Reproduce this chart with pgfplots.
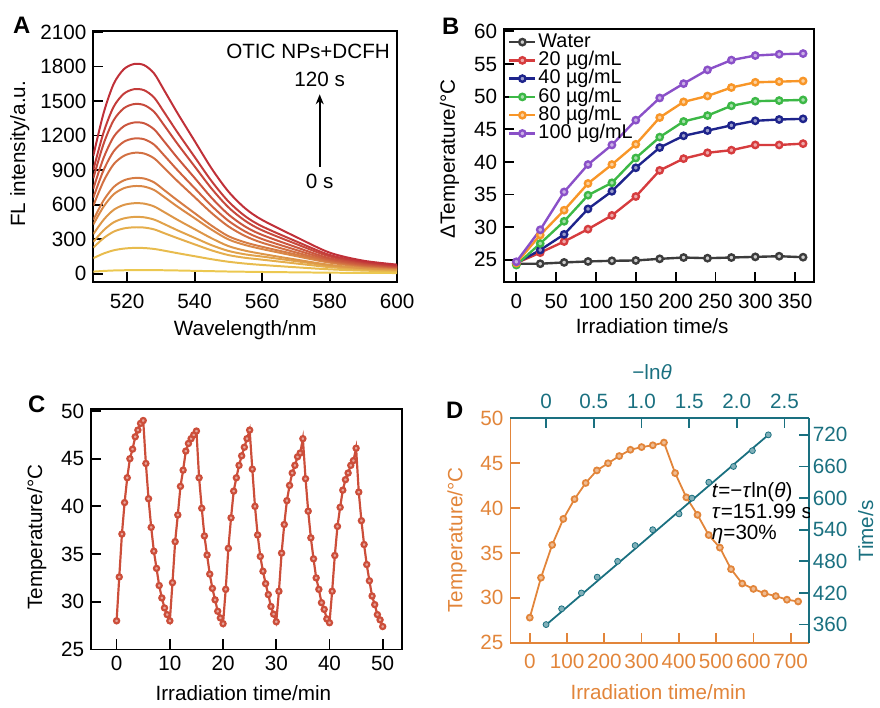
\documentclass[border=0pt]{standalone}
\usepackage{fontspec}
\setmainfont{Liberation Sans}
\usepackage{pgfplots}
\usepackage{pgfplotstable}
\pgfplotsset{compat=1.18}
\usetikzlibrary{arrows.meta}

\definecolor{Ared}{RGB}{192,48,56}
\definecolor{Ayel}{RGB}{236,200,80}
\definecolor{Bwat}{RGB}{60,60,60}
\definecolor{Bred}{RGB}{214,60,62}
\definecolor{Bblu}{RGB}{30,36,140}
\definecolor{Bgrn}{RGB}{60,184,70}
\definecolor{Bora}{RGB}{248,150,40}
\definecolor{Bpur}{RGB}{138,80,200}
\definecolor{Cred}{RGB}{204,78,58}
\definecolor{Dor}{RGB}{226,133,58}
\definecolor{Dte}{RGB}{26,112,128}

\newcommand{\lbl}{\fontsize{10.4}{12}\selectfont}

% FL spectra, 0 s (c13) to 120 s (c1)
\pgfplotstableread{
x   c1   c2   c3   c4   c5   c6   c7  c8  c9  c10 c11 c12 c13
510 1025 902  829  739  661  591  468 428 344 277 227 135 18
513 1391 1224 1125 1003 897  802  635 581 467 376 308 175 24
516 1647 1449 1332 1188 1062 950  752 689 554 446 365 203 28
519 1775 1562 1436 1280 1145 1023 810 742 597 480 393 218 30
522 1821 1602 1473 1313 1174 1050 831 761 612 493 403 224 32
525 1812 1594 1465 1307 1168 1044 827 757 609 490 401 223 32
528 1739 1530 1406 1254 1121 1002 793 727 584 470 385 215 31
531 1592 1401 1288 1148 1027 918  726 666 535 431 352 200 30
535 1391 1224 1125 1003 897  802  635 581 467 376 308 178 28
540 1153 1014 932  832  743  665  526 482 387 312 255 152 25
545 915  805  740  660  590  528  418 383 308 248 203 126 22
550 714  628  577  515  460  411  326 298 240 198 162 104 19
555 567  499  459  409  366  327  272 249 200 168 138 88  17
560 467  411  377  337  301  269  234 214 172 149 122 76  15
570 320  282  259  231  207  185  167 153 123 109 89  56  12
580 183  163  150  134  122  112  104 96  77  69  57  38  9
590 113  103  95   86   78   72   67  61  49  47  38  27  7
600 79   71   66   61   57   54   50  46  37  35  28  20  6
}\dataA

\pgfplotstableread{
t   w     c20  c40  c60  c80  c100
0   24.4  24.5 24.5 24.2 24.5 24.7
30  24.4  26.1 26.5 27.5 28.8 29.6
60  24.6  27.8 28.9 30.9 32.6 35.4
90  24.75 29.7 32.8 34.9 36.7 39.6
120 24.85 31.8 35.5 36.8 39.6 42.6
150 24.9  34.7 39.1 40.6 42.7 46.4
180 25.15 38.7 42.2 43.8 46.8 49.8
210 25.35 40.5 44.0 46.2 49.2 52.0
240 25.25 41.4 44.8 47.1 50.1 54.1
270 25.35 41.8 45.6 48.6 51.4 55.6
300 25.45 42.6 46.3 49.3 52.2 56.3
330 25.55 42.6 46.5 49.4 52.3 56.5
360 25.4  42.8 46.6 49.5 52.4 56.6
}\dataB

\pgfplotsset{
  common/.style={
    scale only axis,
    tick align=inside,
    major tick length=5pt,
    tick label style={font=\lbl},
    label style={font=\lbl},
    /pgf/number format/assume math mode=true,
    /pgf/number format/1000 sep={},
    scaled ticks=false,
  },
  boxed/.style={
    common,
    axis line style={line width=0.9pt},
    every tick/.style={black, line width=0.9pt},
    xtick pos=left, ytick pos=left,
  },
}

\begin{document}
\begin{tikzpicture}
\path (0pt,0pt) rectangle (440pt,353pt);

% ---------- A ----------
\begin{axis}[boxed, at={(47pt,211pt)}, anchor=south west,
  width=153pt, height=126.5pt,
  xmin=510, xmax=600, ymin=-72, ymax=2110,
  xtick={520,540,...,600}, ytick={0,300,...,2100},
  xticklabel style={yshift=-2.4pt},
  xlabel={Wavelength/nm}, ylabel={FL intensity/a.u.},
  xlabel style={at={(axis description cs:0.5,-0.19)}, anchor=center},
  ylabel style={at={(axis description cs:-0.242,0.51)}, anchor=center},
  every axis plot/.append style={line width=1pt, smooth, no markers}]
\addplot[color=Ared!0!Ayel]   table[x=x,y=c13] {\dataA};
\addplot[color=Ared!8!Ayel]   table[x=x,y=c12] {\dataA};
\addplot[color=Ared!17!Ayel]  table[x=x,y=c11] {\dataA};
\addplot[color=Ared!25!Ayel]  table[x=x,y=c10] {\dataA};
\addplot[color=Ared!33!Ayel]  table[x=x,y=c9] {\dataA};
\addplot[color=Ared!42!Ayel]  table[x=x,y=c8] {\dataA};
\addplot[color=Ared!50!Ayel]  table[x=x,y=c7] {\dataA};
\addplot[color=Ared!58!Ayel]  table[x=x,y=c6] {\dataA};
\addplot[color=Ared!67!Ayel]  table[x=x,y=c5] {\dataA};
\addplot[color=Ared!75!Ayel]  table[x=x,y=c4] {\dataA};
\addplot[color=Ared!83!Ayel]  table[x=x,y=c3] {\dataA};
\addplot[color=Ared!92!Ayel]  table[x=x,y=c2] {\dataA};
\addplot[color=Ared!100!Ayel] table[x=x,y=c1] {\dataA};
\node[anchor=east, font=\lbl, inner sep=0pt] at (rel axis cs:0.977,0.917) {OTIC NPs+DCFH};
\node[font=\lbl, inner sep=0pt] at (rel axis cs:0.745,0.806) {120 s};
\node[font=\lbl, inner sep=0pt] at (rel axis cs:0.745,0.40) {0 s};
\draw[-{Stealth[length=5pt,width=4pt]}, line width=0.8pt]
  (rel axis cs:0.745,0.458) -- (rel axis cs:0.745,0.747);
\end{axis}

% ---------- B ----------
\begin{axis}[boxed, at={(253.85pt,211pt)}, anchor=south west,
  width=156pt, height=127.5pt,
  xmin=-15.3, xmax=373.7, ymin=21.6, ymax=60.4,
  xtick={0,50,...,350}, ytick={25,30,...,60},
  xticklabel style={yshift=-2.4pt},
  xlabel={Irradiation time/s}, ylabel={ΔTemperature/°C},
  xlabel style={at={(axis description cs:0.478,-0.173)}, anchor=center},
  ylabel style={at={(axis description cs:-0.176,0.486)}, anchor=center},
  every axis plot/.append style={line width=1.2pt, mark=*, mark size=1.6pt},
  legend style={at={(rel axis cs:0.012,0.985)}, anchor=north west,
    draw=none, fill=none, font=\fontsize{10}{11}\selectfont,
    inner sep=0pt, row sep=0pt,
    nodes={inner xsep=1pt, inner ysep=0pt, text height=7.2pt, text depth=2pt}},
  legend cell align=left,
  legend image code/.code={\draw[mark repeat=2,mark phase=2]
    plot coordinates {(0pt,0pt) (6.5pt,0pt) (13pt,0pt)};}]
\addplot[color=Bwat, mark options={fill=Bwat!25!white}] table[x=t,y=w] {\dataB};
\addlegendentry{Water}
\addplot[color=Bred, mark options={fill=Bred!45!white}] table[x=t,y=c20] {\dataB};
\addlegendentry{20 µg/mL}
\addplot[color=Bblu, mark options={fill=Bblu!45!white}] table[x=t,y=c40] {\dataB};
\addlegendentry{40 µg/mL}
\addplot[color=Bgrn, mark options={fill=Bgrn!45!white}] table[x=t,y=c60] {\dataB};
\addlegendentry{60 µg/mL}
\addplot[color=Bora, mark options={fill=Bora!45!white}] table[x=t,y=c80] {\dataB};
\addlegendentry{80 µg/mL}
\addplot[color=Bpur, mark options={fill=Bpur!45!white}] table[x=t,y=c100] {\dataB};
\addlegendentry{100 µg/mL}
\end{axis}

% ---------- C ----------
\begin{axis}[boxed, at={(45.85pt,26pt)}, anchor=south west,
  width=156.5pt, height=121pt,
  xmin=-4.8, xmax=53.6, ymin=25, ymax=50.2,
  xtick={0,10,...,50}, ytick={25,30,...,50},
  xlabel={Irradiation time/min}, ylabel={Temperature/°C},
  xlabel style={at={(axis description cs:0.49,-0.182)}, anchor=center},
  ylabel style={at={(axis description cs:-0.175,0.467)}, anchor=center}]
\addplot[color=Cred, line width=1.1pt, mark=*, mark size=1.3pt,
  mark options={fill=Cred!50!white}] coordinates {
(0,28.0) (0.5,32.6) (1,37.1) (1.5,40.4) (2,43.0) (2.5,45.0) (3,46.0) (3.5,47.3) (4,48.0) (4.5,48.7) (5,49.0)
(5.5,44.5) (6,40.8) (6.5,37.8) (7,35.3) (7.5,33.5) (8,31.7) (8.5,30.4) (9,29.35) (9.5,28.65) (10,28.0)
(10.5,32.0) (11,36.3) (11.5,39.1) (12,42.1) (12.5,43.8) (13,45.8) (13.5,46.6) (14,47.1) (14.5,47.5) (15,47.9)
(15.5,43.0) (16,39.8) (16.5,36.9) (17,34.9) (17.5,32.9) (18,31.4) (18.5,30.2) (19,29.0) (19.5,28.3) (20,27.7)
(20.5,31.3) (21,35.6) (21.5,38.8) (22,41.6) (22.5,43.0) (23,44.3) (23.5,45.3) (24,46.2) (24.5,47.1) (25,48.0)
(25.5,43.9) (26,40.0) (26.5,37.0) (27,34.75) (27.5,33.2) (28,31.9) (28.5,30.75) (29,29.5) (29.5,28.7) (30,27.9)
(30.5,31.1) (31,35.1) (31.5,38.1) (32,40.6) (32.5,42.2) (33,43.5) (33.5,44.3) (34,45.2) (34.5,45.6) (35,47.1)
(35.5,42.9) (36,39.5) (36.5,36.7) (37,34.5) (37.5,32.5) (38,31.3) (38.5,29.9) (39,29.2) (39.5,28.2) (40,27.8)
(40.5,31.1) (41,34.85) (41.5,37.9) (42,39.9) (42.5,41.7) (43,42.8) (43.5,43.5) (44,44.3) (44.5,44.8) (45,46.1)
(45.5,41.5) (46,38.5) (46.5,36.0) (47,33.9) (47.5,32.2) (48,30.6) (48.5,29.7) (49,28.65) (49.5,28.1) (50,27.4)
};
\end{axis}

% ---------- D ----------
\begin{axis}[common, at={(257pt,29.35pt)}, anchor=south west,
  width=150.5pt, height=113pt,
  xmin=-52, xmax=750, ymin=25, ymax=50,
  axis x line*=bottom, axis y line*=left,
  axis line style={-, draw=Dor, line width=0.9pt},
  tick style={draw=Dor, line width=0.9pt},
  tick label style={text=Dor},
  xtick={0,100,...,700}, ytick={25,30,...,50},
  xticklabel style={yshift=-2.3pt},
  xlabel={Irradiation time/min}, ylabel={Temperature/°C},
  label style={text=Dor},
  xlabel style={at={(axis description cs:0.495,-0.218)}, anchor=center},
  ylabel style={at={(axis description cs:-0.179,0.458)}, anchor=center}]
\addplot[color=Dor, line width=0.9pt, mark=*, mark size=1.5pt,
  mark options={fill=Dor!55!white}] coordinates {
(0,27.8) (30,32.25) (60,35.9) (90,38.8) (120,41.0) (150,42.8) (180,44.2) (210,45.0)
(240,45.8) (270,46.5) (300,46.8) (330,47.0) (360,47.3) (390,43.9) (420,41.2) (450,39.25)
(480,37.0) (510,35.6) (540,33.2) (570,31.6) (600,31.0) (630,30.5) (660,30.2) (690,29.8) (720,29.6)
};
\end{axis}
\begin{axis}[common, at={(257pt,29.35pt)}, anchor=south west,
  width=150.5pt, height=113pt,
  xmin=-0.374, xmax=2.76, ymin=325.5, ymax=751.3,
  axis x line*=top, axis y line*=right,
  axis line style={-, draw=Dte, line width=0.9pt},
  tick style={draw=Dte, line width=0.9pt},
  tick label style={text=Dte},
  xtick={0,0.5,...,2.5}, xticklabels={0,0.5,1.0,1.5,2.0,2.5},
  ytick={360,420,...,720},
  xticklabel style={yshift=1.5pt},
  yticklabel style={xshift=-1.7pt},
  xlabel={−ln\textit{θ}}, ylabel={Time/s},
  label style={text=Dte},
  xlabel style={at={(axis description cs:0.474,1.205)}, anchor=center},
  ylabel style={at={(axis description cs:1.189,0.497)}, anchor=center, rotate=0}]
\addplot[color=Dte, line width=0.9pt, no markers] coordinates {(0,359.4) (2.33,719.9)};
\addplot[color=Dte, only marks, mark=*, mark size=1.5pt,
  mark options={fill=Dte!55!white}] coordinates {
(0,360) (0.163,390) (0.37,420) (0.536,450) (0.75,480) (0.934,510) (1.118,540)
(1.394,570) (1.529,600) (1.706,630) (1.965,660) (2.163,690) (2.33,720)
};
\node[anchor=west, align=left, inner sep=0pt, font=\fontsize{10.4}{10.5}\selectfont]
  at (rel axis cs:0.673,0.577)
  {\textit{t}=−\textit{τ}ln(\textit{θ})\\\textit{τ}=151.99 s\\\textit{η}=30\%};
\end{axis}

\node[font=\bfseries\fontsize{12}{13}\selectfont] at (11pt,340.5pt) {A};
\node[font=\bfseries\fontsize{12}{13}\selectfont] at (227pt,339.5pt) {B};
\node[font=\bfseries\fontsize{12}{13}\selectfont] at (18.5pt,149.5pt) {C};
\node[font=\bfseries\fontsize{12}{13}\selectfont] at (229pt,146.5pt) {D};
\end{tikzpicture}
\end{document}
